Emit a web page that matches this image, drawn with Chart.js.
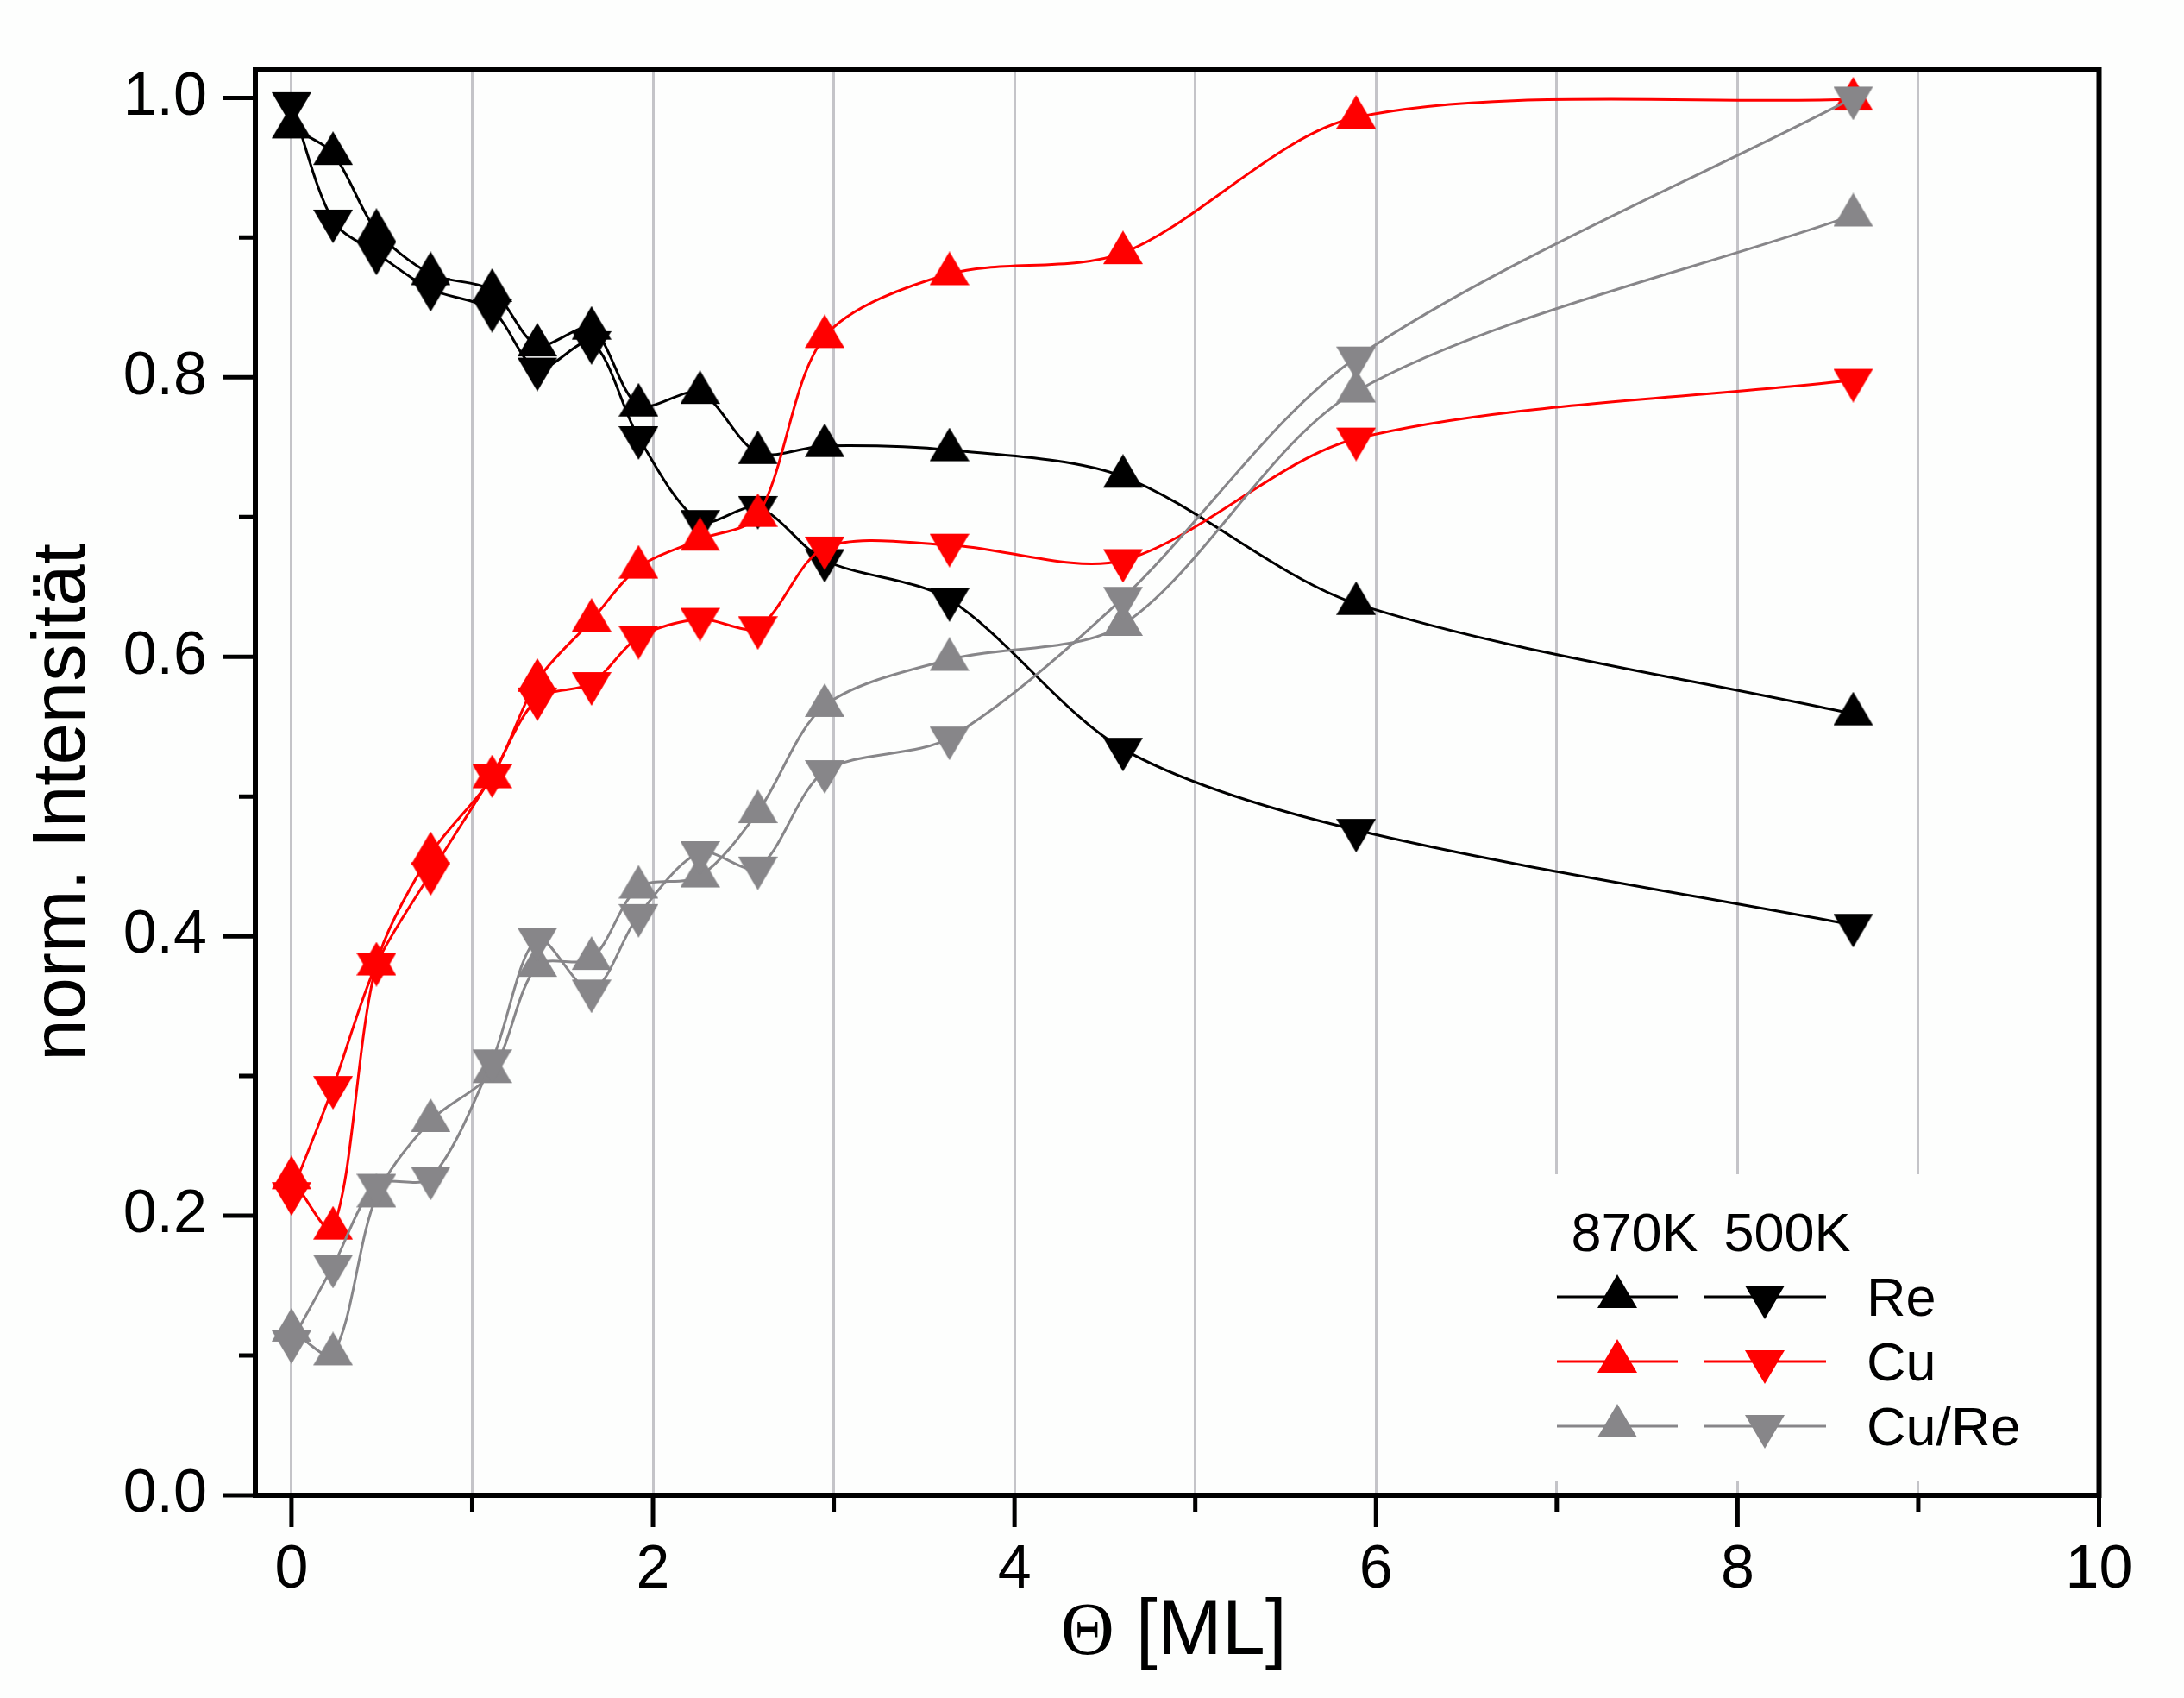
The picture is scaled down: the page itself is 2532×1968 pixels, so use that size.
<!DOCTYPE html>
<html lang="de">
  <head>
    <meta charset="utf-8" />
    <title>norm. Intensität</title>
    <style>
      html, body { margin: 0; padding: 0; background: #fdfefd; }
      canvas { display: block; }
    </style>
    <script src="https://cdn.jsdelivr.net/npm/chart.js"></script>
  </head>
  <body>
    <canvas id="intensityChart" width="2532" height="1968"></canvas>
    <script>
      // coverage in ML
      const theta = [0, 0.23, 0.47, 0.77, 1.11, 1.36, 1.66, 1.92, 2.26, 2.58, 2.95, 3.64, 4.60, 5.89, 8.64];

      // normalised intensities, 870K (up triangles) and 500K (down triangles)
      const re870 = [0.979, 0.960, 0.905, 0.874, 0.862, 0.823, 0.835, 0.780, 0.789, 0.746, 0.751, 0.748, 0.729, 0.638, 0.559];
      const re500 = [0.996, 0.912, 0.889, 0.863, 0.848, 0.806, 0.825, 0.757, 0.697, 0.707, 0.669, 0.641, 0.534, 0.476, 0.408];
      const cu870 = [0.227, 0.191, 0.380, 0.459, 0.514, 0.583, 0.626, 0.664, 0.684, 0.701, 0.829, 0.874, 0.889, 0.986, 0.999];
      const cu500 = [0.216, 0.292, 0.380, 0.445, 0.515, 0.570, 0.581, 0.614, 0.627, 0.621, 0.678, 0.680, 0.669, 0.756, 0.798];
      const cuRe870 = [0.118, 0.101, 0.214, 0.268, 0.303, 0.379, 0.384, 0.435, 0.443, 0.489, 0.565, 0.598, 0.623, 0.790, 0.916];
      const cuRe500 = [0.110, 0.164, 0.222, 0.227, 0.311, 0.398, 0.361, 0.415, 0.460, 0.449, 0.518, 0.542, 0.642, 0.814, 1.000];

      const xTickValues = [0, 1, 2, 3, 4, 5, 6, 7, 8, 9, 10];
      const yTickValues = [0, 0.1, 0.2, 0.3, 0.4, 0.5, 0.6, 0.7, 0.8, 0.9, 1.0];
      const legendRows = ['Re', 'Cu', 'Cu/Re'];
      const legendTemps = ['870K', '500K'];

      const BLACK = '#000000';
      const RED = '#ff0000';
      const GREY = '#878689';
      const SANS = '"Liberation Sans", Arial, sans-serif';

      // triangle marker, centroid sits in the middle of the canvas
      function triangleMarker(color, up) {
        const w = 46, h = 39;
        const c = document.createElement('canvas');
        c.width = w;
        c.height = 52;
        const g = c.getContext('2d');
        g.fillStyle = color;
        g.beginPath();
        if (up) {
          g.moveTo(w / 2, 0); g.lineTo(w, h); g.lineTo(0, h);
        } else {
          const t = c.height - h;
          g.moveTo(0, t); g.lineTo(w, t); g.lineTo(w / 2, c.height);
        }
        g.closePath();
        g.fill();
        return c;
      }

      function series(label, values, color, up, order) {
        const marker = triangleMarker(color, up);
        return {
          label: label,
          data: theta.map((t, i) => ({ x: t, y: values[i] })),
          borderColor: color,
          backgroundColor: color,
          borderWidth: 3,
          showLine: true,
          tension: 0.3,
          pointStyle: marker,
          pointRadius: 20,
          order: order,
          marker: marker
        };
      }

      const datasets = [
        series('Re 870K', re870, BLACK, true, 6),
        series('Re 500K', re500, BLACK, false, 5),
        series('Cu 870K', cu870, RED, true, 4),
        series('Cu 500K', cu500, RED, false, 3),
        series('Cu/Re 870K', cuRe870, GREY, true, 2),
        series('Cu/Re 500K', cuRe500, GREY, false, 1)
      ];

      const decorations = {
        id: 'decorations',
        afterDraw(chart) {
          const { ctx, chartArea: a, scales: { x, y } } = chart;
          ctx.save();

          // tick marks, outward
          ctx.strokeStyle = '#000';
          ctx.lineWidth = 5;
          ctx.beginPath();
          xTickValues.forEach(v => {
            const px = x.getPixelForValue(v);
            const len = v % 2 === 0 ? 37 : 19;
            ctx.moveTo(px, a.bottom);
            ctx.lineTo(px, a.bottom + len);
          });
          yTickValues.forEach(v => {
            const py = y.getPixelForValue(v);
            const len = Math.round(v * 10) % 2 === 0 ? 37 : 19;
            ctx.moveTo(a.left, py);
            ctx.lineTo(a.left - len, py);
          });
          ctx.stroke();

          // frame
          ctx.lineWidth = 6;
          ctx.strokeRect(a.left, a.top, a.right - a.left, a.bottom - a.top);

          // x title: serif Theta + sans [ML]
          ctx.fillStyle = '#000';
          ctx.textBaseline = 'alphabetic';
          ctx.textAlign = 'left';
          const serif = '86px "Liberation Serif", "DejaVu Serif", serif';
          const sans = '90px ' + SANS;
          ctx.font = serif;
          const wTheta = ctx.measureText('Θ').width;
          ctx.font = sans;
          const wRest = ctx.measureText(' [ML]').width;
          const tx = (a.left + a.right) / 2 - 4 - (wTheta + wRest) / 2;
          ctx.font = serif;
          ctx.fillText('Θ', tx, a.bottom + 184);
          ctx.font = sans;
          ctx.fillText(' [ML]', tx + wTheta, a.bottom + 184);

          // y title
          ctx.save();
          ctx.translate(98, 930);
          ctx.rotate(-Math.PI / 2);
          ctx.textAlign = 'center';
          ctx.font = '87px ' + SANS;
          ctx.fillText('norm. Intensität', 0, 0);
          ctx.restore();

          // legend
          ctx.fillStyle = '#fdfefd';
          ctx.fillRect(1792, 1361, 634, 355);
          ctx.fillStyle = '#000';
          ctx.font = '63px ' + SANS;
          ctx.textAlign = 'center';
          ctx.fillText(legendTemps[0], 1895, 1450);
          ctx.fillText(legendTemps[1], 2072, 1450);
          ctx.textAlign = 'left';
          legendRows.forEach((name, r) => {
            const rowY = 1503 + r * 75;
            const up = datasets[r * 2];
            const down = datasets[r * 2 + 1];
            ctx.strokeStyle = up.borderColor;
            ctx.lineWidth = 3;
            ctx.beginPath();
            ctx.moveTo(1805, rowY); ctx.lineTo(1945, rowY);
            ctx.moveTo(1976, rowY); ctx.lineTo(2117, rowY);
            ctx.stroke();
            ctx.drawImage(up.marker, 1875 - up.marker.width / 2, rowY - up.marker.height / 2);
            ctx.drawImage(down.marker, 2046 - down.marker.width / 2, rowY - down.marker.height / 2);
            ctx.fillStyle = '#000';
            ctx.fillText(name, 2164, rowY + 22);
          });

          ctx.restore();
        }
      };

      Chart.defaults.font.family = SANS;
      Chart.defaults.color = '#000';

      new Chart(document.getElementById('intensityChart'), {
        type: 'scatter',
        data: { datasets: datasets },
        options: {
          responsive: false,
          animation: false,
          layout: { padding: { top: 81, right: 98.5, left: 0, bottom: 0 } },
          plugins: {
            legend: { display: false },
            tooltip: { enabled: false }
          },
          scales: {
            x: {
              type: 'linear',
              min: -0.2,
              max: 10,
              afterBuildTicks: s => { s.ticks = xTickValues.map(v => ({ value: v })); },
              afterFit: s => { s.height = 235; s.paddingLeft = 0; s.paddingRight = 0; },
              border: { display: false },
              grid: { color: '#c4c4c8', lineWidth: 3, drawTicks: false },
              ticks: {
                autoSkip: false,
                maxRotation: 0,
                padding: 46,
                font: { size: 70 },
                callback: v => (v % 2 === 0 ? String(v) : '')
              }
            },
            y: {
              type: 'linear',
              min: 0,
              max: 1.02,
              afterBuildTicks: s => { s.ticks = yTickValues.map(v => ({ value: v })); },
              afterFit: s => { s.width = 296; s.paddingTop = 0; s.paddingBottom = 0; },
              border: { display: false },
              grid: { display: false, drawTicks: false },
              ticks: {
                autoSkip: false,
                padding: 56,
                font: { size: 70 },
                callback: v => (Math.round(v * 10) % 2 === 0 ? v.toFixed(1) : '')
              }
            }
          }
        },
        plugins: [decorations]
      });
    </script>
  </body>
</html>
